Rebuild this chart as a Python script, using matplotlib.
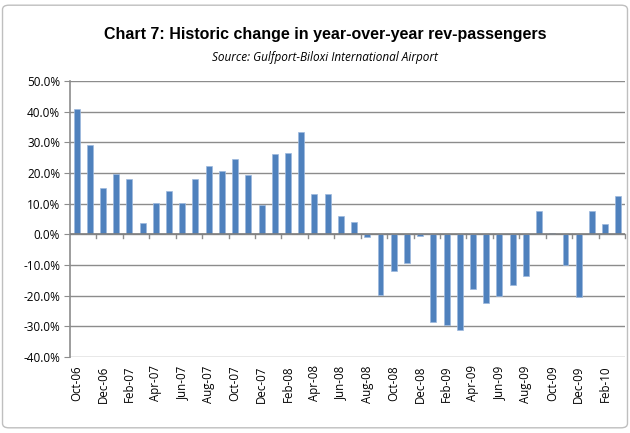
import matplotlib.pyplot as plt
from matplotlib.patches import FancyBboxPatch
import numpy as np

months = ["Oct-06", "Nov-06", "Dec-06", "Jan-07", "Feb-07", "Mar-07", "Apr-07",
          "May-07", "Jun-07", "Jul-07", "Aug-07", "Sep-07", "Oct-07", "Nov-07",
          "Dec-07", "Jan-08", "Feb-08", "Mar-08", "Apr-08", "May-08", "Jun-08",
          "Jul-08", "Aug-08", "Sep-08", "Oct-08", "Nov-08", "Dec-08", "Jan-09",
          "Feb-09", "Mar-09", "Apr-09", "May-09", "Jun-09", "Jul-09", "Aug-09",
          "Sep-09", "Oct-09", "Nov-09", "Dec-09", "Jan-10", "Feb-10", "Mar-10"]
change = [41.0, 29.0, 15.0, 19.8, 17.9, 3.7, 10.1,
          14.2, 10.1, 18.2, 22.2, 20.6, 24.6, 19.4,
          9.4, 26.1, 26.6, 33.4, 13.0, 13.0, 6.1,
          4.1, -1.0, -19.8, -11.9, -9.5, -0.6, -28.7,
          -29.6, -31.2, -17.8, -22.5, -20.2, -16.6, -13.5,
          7.6, 0.4, -9.9, -20.3, 7.6, 3.3, 12.5]
yticks = [50, 40, 30, 20, 10, 0, -10, -20, -30, -40]

fig = plt.figure(figsize=(6.3, 4.33), dpi=100)
ax = fig.add_axes([0.111, 0.1755, 0.881, 0.6375])

x = np.arange(len(months))
ax.bar(x, change, width=0.45, color="#4F81BD", edgecolor="#9DB9DE", linewidth=0.5, zorder=3)

ax.set_ylim(-40, 50)
ax.set_xlim(-0.5, len(months) - 0.5)
ax.set_yticks(yticks)
ax.set_yticklabels([f"{v:.1f}%" for v in yticks], fontsize=8.5, family="Open Sans")
ax.yaxis.grid(True, color="#8C8C8C", linewidth=1.0, zorder=0)
ax.tick_params(axis="y", length=4, color="#8C8C8C", pad=3)

# labels every other month, rotated
ax.set_xticks(x[::2])
ax.set_xticklabels(months[::2], rotation=90, fontsize=8.3, family="Open Sans")
ax.tick_params(axis="x", length=0, pad=6)
# tick marks on zero line between pairs of months
for b in np.arange(1.5, len(months), 2):
    ax.plot([b, b], [0, -1.3], color="#8C8C8C", linewidth=1.0, zorder=2, clip_on=False)
ax.axhline(0, color="#7F7F7F", linewidth=1.2, zorder=4)

for side in ["top", "right", "bottom"]:
    ax.spines[side].set_visible(False)
ax.spines["left"].set_color("#8C8C8C")
ax.spines["left"].set_linewidth(1.2)

title = fig.text(0.516, 0.92, "Chart 7: Historic change in year-over-year rev-passengers",
                 ha="center", va="center", fontsize=13, fontweight="bold",
                 family="Liberation Sans")
fig.text(0.516, 0.868, "Source: Gulfport-Biloxi International Airport",
         ha="center", va="center", fontsize=8.5, style="italic", family="Open Sans")

# squeeze the title to the width of the condensed original (~440 px)
r = fig.canvas.get_renderer()
w = title.get_window_extent(renderer=r).width
title.set_fontsize(13 * 440 / w)

border = FancyBboxPatch((0.004, 0.012), 0.992, 0.976, boxstyle="round,pad=0,rounding_size=0.01",
                        transform=fig.transFigure, fill=False, edgecolor="#BFBFBF", linewidth=1.0)
fig.patches.append(border)

fig.savefig("out.png", dpi=100)
